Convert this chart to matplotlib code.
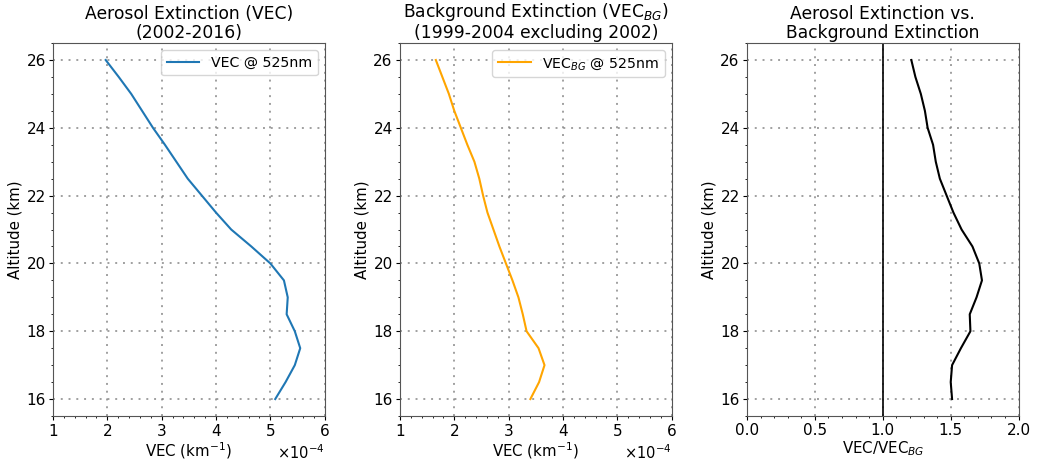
import numpy as np
import matplotlib.pyplot as plt

## Profils d'extinction (altitude en km, VEC en km^-1)

altitude = [16.0, 16.5, 17.0, 17.5, 18.0, 18.5, 19.0, 19.5, 20.0, 20.5, 21.0,
            21.5, 22.0, 22.5, 23.0, 23.5, 24.0, 24.5, 25.0, 25.5, 26.0]

vec = [5.09, 5.28, 5.45, 5.55, 5.45, 5.30, 5.32, 5.25, 5.00, 4.65, 4.28,
       4.00, 3.74, 3.48, 3.27, 3.06, 2.84, 2.64, 2.44, 2.21, 1.97]

vec_bg = [3.40, 3.56, 3.66, 3.55, 3.33, 3.26, 3.18, 3.07, 2.95, 2.83, 2.72,
          2.61, 2.53, 2.46, 2.37, 2.24, 2.12, 2.00, 1.90, 1.78, 1.66]

ratio = [1.51, 1.50, 1.51, 1.575, 1.645, 1.64, 1.69, 1.73, 1.71, 1.66, 1.58,
         1.52, 1.47, 1.42, 1.39, 1.37, 1.33, 1.31, 1.28, 1.24, 1.21]

vec = np.array(vec)*1e-4
vec_bg = np.array(vec_bg)*1e-4

plt.rcParams['font.size'] = 10.5
plt.rcParams['xtick.major.size'] = 3.0
plt.rcParams['ytick.major.size'] = 3.0
plt.rcParams['xtick.minor.size'] = 1.7
plt.rcParams['ytick.minor.size'] = 1.7
plt.rcParams['xtick.major.pad'] = 1.8
plt.rcParams['ytick.major.pad'] = 2.2

fig = plt.figure(figsize=(10.37, 4.61), dpi=100)
ax1 = fig.add_axes([0.0511, 0.0976, 0.262, 0.809])
ax2 = fig.add_axes([0.3857, 0.0976, 0.262, 0.809])
ax3 = fig.add_axes([0.7203, 0.0976, 0.262, 0.809])

def habillage(ax):
    ax.set_ylim(15.5, 26.5)
    ax.set_yticks([16, 18, 20, 22, 24, 26])
    ax.minorticks_on()
    ax.grid(True, which='major', linestyle=(0, (1, 3)), color='gray', linewidth=1.4, alpha=0.75)
    ax.set_ylabel('Altitude (km)', labelpad=3, fontsize=10.8)
    ax.tick_params(labelsize=11)
    for s in ax.spines.values():
        s.set_color('#555555')

# 1) VEC
ax1.plot(vec, altitude, color='#1f77b4', lw=1.5, label='VEC @ 525nm')
ax1.set_xlim(1e-4, 6e-4)
ax1.ticklabel_format(axis='x', style='sci', scilimits=(0, 0), useMathText=True)
ax1.set_xlabel('VEC (km$^{-1}$)', labelpad=1, fontsize=10.8)
ax1.set_title('Aerosol Extinction (VEC)\n(2002-2016)', fontsize=12.3, linespacing=1.1, pad=3.5)
habillage(ax1)
ax1.legend(loc='upper right', fontsize=10.2, handlelength=2.3)

# 2) VEC_BG
ax2.plot(vec_bg, altitude, color='orange', lw=1.5, label='VEC$_{BG}$ @ 525nm')
ax2.set_xlim(1e-4, 6e-4)
ax2.ticklabel_format(axis='x', style='sci', scilimits=(0, 0), useMathText=True)
ax2.set_xlabel('VEC (km$^{-1}$)', labelpad=1, fontsize=10.8)
ax2.set_title('Background Extinction (VEC$_{BG}$)\n(1999-2004 excluding 2002)', fontsize=12.3, linespacing=1.1, pad=3.5)
habillage(ax2)
ax2.legend(loc='upper right', fontsize=10.2, handlelength=2.3)

# 3) rapport
ax3.plot(ratio, altitude, color='black', lw=1.5)
ax3.axvline(1.0, color='black', lw=1.2)
ax3.set_xlim(0, 2)
ax3.set_xticks([0, 0.5, 1.0, 1.5, 2.0])
ax3.set_xlabel('VEC/VEC$_{BG}$', labelpad=1, fontsize=10.8)
ax3.set_title('Aerosol Extinction vs.\nBackground Extinction', fontsize=12.3, linespacing=1.1, pad=3.5)
habillage(ax3)

plt.savefig('out.png', dpi=100)
